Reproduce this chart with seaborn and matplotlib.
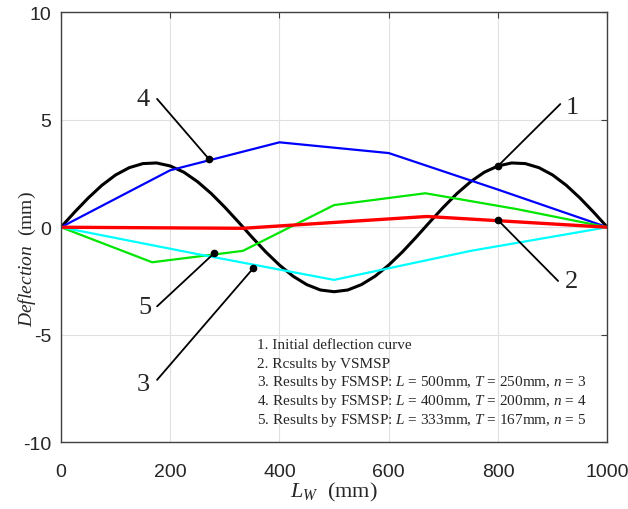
import numpy as np
import pandas as pd
import matplotlib
matplotlib.use('Agg')
import matplotlib.pyplot as plt
import seaborn as sns

# 1. initial deflection curve (read every 25 mm)
x_init = [0, 25, 50, 75, 100, 125, 150, 175, 200, 225, 250, 275, 300, 325, 350, 375, 400,
          425, 450, 475, 500, 525, 550, 575, 600, 625, 650, 675, 700, 725, 750, 775, 800,
          825, 850, 875, 900, 925, 950, 975, 1000]
y_init = [0, 0.70, 1.36, 1.95, 2.43, 2.77, 2.96, 2.99, 2.85, 2.56, 2.12, 1.57, 0.93, 0.24,
          -0.47, -1.15, -1.76, -2.28, -2.67, -2.92, -3.00, -2.92, -2.67, -2.28, -1.76, -1.15,
          -0.47, 0.24, 0.93, 1.57, 2.12, 2.56, 2.85, 2.99, 2.96, 2.77, 2.43, 1.95, 1.36, 0.70, 0]

# 2. VSMSP
x_vs = [0, 333, 670, 1000]
y_vs = [0, -0.05, 0.5, 0]

# 3. FSMSP n=3
x_n3 = [0, 250, 500, 750, 1000]
y_n3 = [0, -1.25, -2.45, -1.1, 0]

# 4. FSMSP n=4
x_n4 = [0, 200, 400, 600, 800, 1000]
y_n4 = [0, 2.65, 3.95, 3.45, 1.75, 0]

# 5. FSMSP n=5
x_n5 = [0, 167, 333, 500, 667, 833, 1000]
y_n5 = [0, -1.63, -1.1, 1.03, 1.58, 0.85, 0]

# callout labels: dot on curve, line end, text position
lab_names = ['1', '2', '3', '4', '5']
lab_dot_x = [800, 800, 352, 271, 280]
lab_dot_y = [2.85, 0.33, -1.91, 3.17, -1.22]
lab_end_x = [914, 910, 176, 176, 176]
lab_end_y = [5.73, -2.5, -7.1, 5.97, -3.68]
lab_txt_x = [936, 934, 150, 150, 154]
lab_txt_y = [5.6, -2.52, -7.3, 5.97, -3.73]

legend_lines = [
    "1. Initial deflection curve",
    "2. Rcsults by VSMSP",
    "3. Results by FSMSP: $L$ = 500mm, $T$ = 250mm, $n$ = 3",
    "4. Results by FSMSP: $L$ = 400mm, $T$ = 200mm, $n$ = 4",
    "5. Results by FSMSP: $L$ = 333mm, $T$ = 167mm, $n$ = 5",
]

sns.set_style('whitegrid', {'grid.color': '#e0e0e0', 'axes.edgecolor': '#404040',
                            'xtick.direction': 'in', 'ytick.direction': 'in'})
plt.rcParams['font.family'] = ['Liberation Sans', 'DejaVu Sans']
plt.rcParams['axes.unicode_minus'] = False
plt.rcParams['mathtext.fontset'] = 'custom'
plt.rcParams['mathtext.rm'] = 'Liberation Serif'
plt.rcParams['mathtext.it'] = 'Liberation Serif:italic'

fig = plt.figure(figsize=(6.28, 5.10), dpi=100)
ax = fig.add_axes([0.097, 0.131, 0.870, 0.843])

sns.lineplot(x=x_init, y=y_init, color='black', linewidth=2.2, ax=ax, sort=False)
sns.lineplot(x=x_n4, y=y_n4, color='#0000ff', linewidth=1.6, ax=ax, sort=False)
sns.lineplot(x=x_n5, y=y_n5, color='#00e600', linewidth=1.6, ax=ax, sort=False)
sns.lineplot(x=x_n3, y=y_n3, color='#00ffff', linewidth=1.6, ax=ax, sort=False)
sns.lineplot(x=x_vs, y=y_vs, color='#ff0000', linewidth=2.4, ax=ax, sort=False)

for i in range(len(lab_names)):
    ax.plot([lab_dot_x[i], lab_end_x[i]], [lab_dot_y[i], lab_end_y[i]], color='black', lw=1.3)
    ax.plot(lab_dot_x[i], lab_dot_y[i], 'o', color='black', ms=4.5)
    ax.text(lab_txt_x[i], lab_txt_y[i], lab_names[i], fontsize=19, family='Liberation Serif',
            ha='center', va='center')

for i, line in enumerate(legend_lines):
    ax.text(359, -5.45 - i * 0.87, line, fontsize=11, family='Liberation Serif',
            ha='left', va='center')

ax.set_xlim(0, 1000)
ax.set_ylim(-10, 10)
ax.set_xticks([0, 200, 400, 600, 800, 1000])
ax.set_yticks([-10, -5, 0, 5, 10])
ax.tick_params(labelsize=14, direction='in', length=4, top=True, right=True,
               color='#404040')
ax.tick_params(axis='x', pad=15)
ax.tick_params(axis='y', pad=7)
for s in ax.spines.values():
    s.set_linewidth(1.0)
    s.set_color('#404040')

ax.set_xlabel(r"$L_W$  (mm)", fontsize=16, family='Liberation Serif')
ax.set_ylabel(r"$Deflection$  (mm)", fontsize=14, family='Liberation Serif')
ax.xaxis.set_label_coords(0.5, -0.089)
ax.yaxis.set_label_coords(-0.042, 0.427)

plt.savefig('out.png', dpi=100)
